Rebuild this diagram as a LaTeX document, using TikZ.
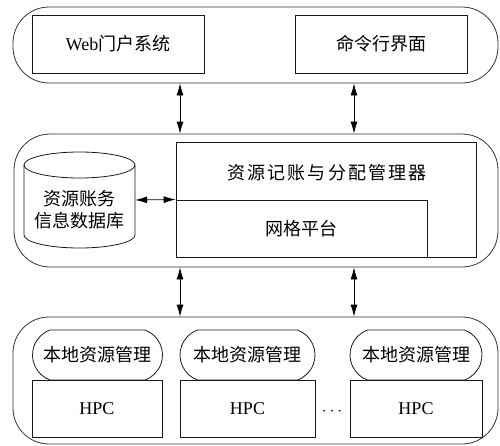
\documentclass[tikz,border=0pt]{standalone}
\usepackage{fontspec}
\setmainfont{Liberation Serif}
\newfontfamily\cjk{Noto Sans CJK SC}
\newfontfamily\cjkw[LetterSpace=12]{Noto Sans CJK SC}
\usetikzlibrary{arrows.meta,shapes.misc}
\begin{document}
\begin{tikzpicture}[x=1pt,y=-1pt,
  font=\fontsize{18}{22}\selectfont,
  container/.style={draw=black!80, line width=0.8pt, rounded corners=36pt, inner sep=0pt},
  box/.style={draw=black!90, line width=0.8pt, inner sep=0pt},
  pill/.style={draw=black!90, line width=0.8pt, rounded rectangle, rounded rectangle arc length=140, inner sep=0pt, minimum height=50pt},
  link/.style={line width=0.8pt, {Latex[length=12pt,width=7pt]}-{Latex[length=12pt,width=7pt]}}
]
\useasboundingbox (0,0) rectangle (500,445);

% containers
\node[container, minimum width=485pt, minimum height=76pt] (top) at (255.5,45) {};
\node[container, minimum width=484pt, minimum height=133pt] (mid) at (256,200.5) {};
\node[container, minimum width=485pt, minimum height=127pt] (bot) at (255.5,380.5) {};

% top level
\node[box, minimum width=172pt, minimum height=58pt] (web) at (118,44) {Web{\cjk 门户系统}};
\node[box, minimum width=172pt, minimum height=58pt] (cli) at (381,44) {\cjk 命令行界面};

% middle level
\node[box, minimum width=300pt, minimum height=115pt] (acct) at (326,199.5) {};
\node (acctt) at (327,173) {\cjkw 资源记账与分配管理器};
\node[box, minimum width=251pt, minimum height=57pt] (grid) at (301.5,228.5) {\cjk 网格平台};

% database cylinder
\node[minimum width=111pt, minimum height=96pt, inner sep=0pt] (db) at (79.5,200) {};
\draw[line width=0.8pt, draw=black!90]
  (24,165) -- (24,235) arc[start angle=180, end angle=0, x radius=55.5, y radius=13]
  -- (135,165);
\draw[line width=0.8pt, draw=black!90] (79.5,165) ellipse[x radius=55.5, y radius=13];
\node[align=center, inner sep=0pt] (dbt) at (79.5,210) {\cjk 资源账务\\\cjk 信息数据库};

% bottom level
\node[pill, minimum width=130pt] (lr1) at (97.5,355) {\cjk 本地资源管理};
\node[pill, minimum width=135pt] (lr2) at (247.5,355) {\cjk 本地资源管理};
\node[pill, minimum width=132pt] (lr3) at (416,355) {\cjk 本地资源管理};
\node[box, minimum width=130pt, minimum height=57pt] (h1) at (97,408.5) {HPC};
\node[box, minimum width=135pt, minimum height=57pt] (h2) at (247.5,408.5) {HPC};
\node[box, minimum width=132pt, minimum height=57pt] (h3) at (416,408.5) {HPC};
\node[inner sep=0pt] (dots) at (332,412) {$\cdots$};

% connectors
\coordinate (c1) at (180,0);
\coordinate (c2) at (354,0);
\draw[link] (top.south -| c1) -- (mid.north -| c1);
\draw[link] (top.south -| c2) -- (mid.north -| c2);
\draw[link] (mid.south -| c1) -- (bot.north -| c1);
\draw[link] (mid.south -| c2) -- (bot.north -| c2);
\draw[link] (db.east) -- (acct.west);
\end{tikzpicture}
\end{document}
